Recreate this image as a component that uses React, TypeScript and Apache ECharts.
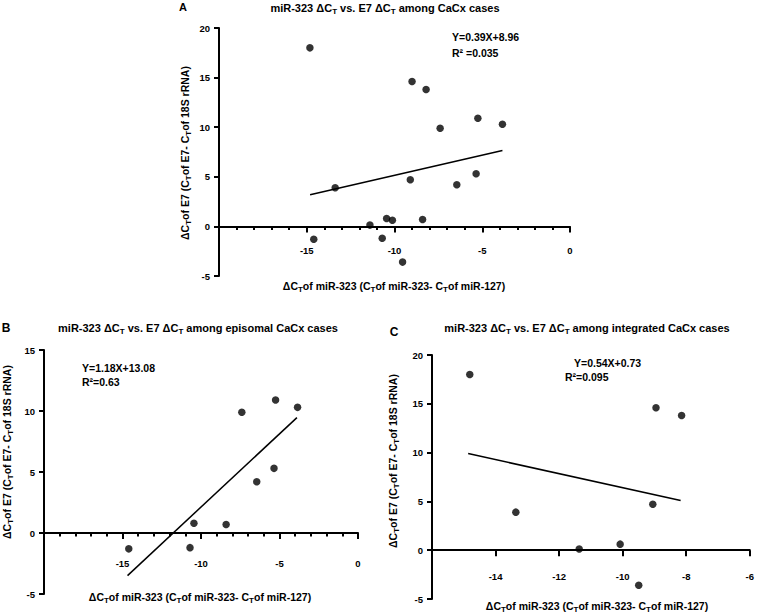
import React, { useEffect, useRef } from "react";
import * as echarts from "echarts";

// Episomal CaCx cases (panel B)
const episomalX = [-14.6, -10.7, -10.45, -8.4, -7.4, -6.45, -5.35, -5.25, -3.85];
const episomalY = [-1.3, -1.2, 0.8, 0.7, 9.9, 4.2, 5.3, 10.9, 10.3];
// Integrated CaCx cases (panel C)
const integratedX = [-14.82, -13.38, -11.4, -10.12, -9.54, -9.1, -9.0, -8.2];
const integratedY = [18.0, 3.9, 0.13, 0.62, -3.6, 4.7, 14.6, 13.8];

// Regression line ends as drawn
const fitAX = [-14.81, -3.85];
const fitAY = [3.2, 7.66];
const fitBX = [-14.68, -3.89];
const fitBY = [-3.49, 9.46];
const fitCX = [-14.87, -8.23];
const fitCY = [9.9, 5.09];

// Axis ranges
const xRangeA = [-20, 0];
const xRangeB = [-20, 0];
const xRangeC = [-16, -6];
const yRangeA = [-5, 20];
const yRangeB = [-5, 15];
const yRangeC = [-5, 20];

const FONT = "Liberation Sans";

const pairs = (xs: number[], ys: number[]) => xs.map((x, i) => [x, ys[i]]);

function sub(size: number) {
  return {
    s: {
      fontSize: Math.round(size * 0.72),
      fontWeight: "bold",
      fontFamily: FONT,
      fill: "#000",
      padding: [Math.round(size * 0.55), 0, 0, 0],
    },
    n: { fontSize: size, fontWeight: "bold", fontFamily: FONT, fill: "#000" },
  };
}

function txt(
  x: number,
  y: number,
  text: string,
  size: number,
  align: string = "center",
  rotation = 0
) {
  return {
    type: "text",
    x,
    y,
    rotation,
    style: {
      text,
      fontSize: size,
      fontWeight: "bold",
      fontFamily: FONT,
      fill: "#000",
      align,
      verticalAlign: "middle",
      rich: sub(size),
    },
  };
}

const Y_TITLE = "{n|ΔC}{s|T}{n|of E7 (C}{s|T}{n|of E7- C}{s|T}{n|of 18S rRNA)}";
const X_TITLE = "{n|ΔC}{s|T}{n|of miR-323 (C}{s|T}{n|of miR-323- C}{s|T}{n|of miR-127)}";
const title = (what: string) =>
  `{n|miR-323 ΔC}{s|T}{n| vs. E7 ΔC}{s|T}{n| among ${what}CaCx cases}`;

// Hidden x axis for plotting data
function dataXAxis(gridIndex: number, r: number[]) {
  return { type: "value", gridIndex, min: r[0], max: r[1], show: false };
}

// Visible x axis drawn at the y = 0 line (bottom of a grid that ends at zero)
function zeroXAxis(gridIndex: number, r: number[], interval: number, minor: boolean, margin: number) {
  return {
    type: "value",
    gridIndex,
    min: r[0],
    max: r[1],
    interval,
    position: "bottom",
    axisLine: { show: true, onZero: false, lineStyle: { color: "#000", width: 2 } },
    axisTick: { show: true, length: 6, lineStyle: { color: "#000", width: 2 } },
    minorTick: { show: minor, splitNumber: 5, length: 3.5, lineStyle: { color: "#000", width: 2 } },
    splitLine: { show: false },
    minorSplitLine: { show: false },
    axisLabel: {
      color: "#000",
      fontSize: 9.5,
      fontWeight: "bold",
      fontFamily: FONT,
      margin,
      formatter: (v: number) => (v === r[0] ? "" : String(v)),
    },
  };
}

function yAxis(gridIndex: number, r: number[]) {
  return {
    type: "value",
    gridIndex,
    min: r[0],
    max: r[1],
    interval: 5,
    axisLine: { show: true, onZero: false, lineStyle: { color: "#000", width: 2 } },
    axisTick: { show: true, length: 5, lineStyle: { color: "#000", width: 2 } },
    splitLine: { show: false },
    axisLabel: {
      color: "#000",
      fontSize: 9.5,
      fontWeight: "bold",
      fontFamily: FONT,
      margin: 9,
    },
  };
}

function hiddenYAxis(gridIndex: number) {
  return { type: "value", gridIndex, min: 0, max: 1, show: false };
}

function scatter(i: number, data: number[][]) {
  return {
    type: "scatter",
    xAxisIndex: i,
    yAxisIndex: i,
    data,
    symbol: "circle",
    symbolSize: 7.5,
    itemStyle: { color: "#000" },
    z: 3,
  };
}

function fit(i: number, data: number[][]) {
  return {
    type: "line",
    xAxisIndex: i,
    yAxisIndex: i,
    data,
    showSymbol: false,
    symbol: "none",
    lineStyle: { color: "#000", width: 1.5 },
    z: 2,
  };
}

// grid boxes
const boxA = { left: 219, top: 28, width: 351, height: 248 };
const boxB = { left: 44, top: 350, width: 314, height: 244 };
const boxC = { left: 432, top: 355, width: 320, height: 244 };

const zeroGrid = (b: typeof boxA, yr: number[]) => ({
  left: b.left,
  top: b.top,
  width: b.width,
  height: (b.height * yr[1]) / (yr[1] - yr[0]),
});

export default function App() {
  const ref = useRef<HTMLDivElement>(null);
  useEffect(() => {
    if (!ref.current) return;
    const chart = echarts.init(ref.current, undefined, { renderer: "svg" });
    const allX = [...episomalX, ...integratedX];
    const allY = [...episomalY, ...integratedY];
    chart.setOption({
      animation: false,
      backgroundColor: "#fff",
      grid: [
        boxA,
        boxB,
        boxC,
        zeroGrid(boxA, yRangeA),
        zeroGrid(boxB, yRangeB),
        zeroGrid(boxC, yRangeC),
      ],
      xAxis: [
        dataXAxis(0, xRangeA),
        dataXAxis(1, xRangeB),
        dataXAxis(2, xRangeC),
        zeroXAxis(3, xRangeA, 5, true, 19),
        zeroXAxis(4, xRangeB, 5, true, 25),
        zeroXAxis(5, xRangeC, 2, false, 21),
      ],
      yAxis: [
        yAxis(0, yRangeA),
        yAxis(1, yRangeB),
        yAxis(2, yRangeC),
        hiddenYAxis(3),
        hiddenYAxis(4),
        hiddenYAxis(5),
      ],
      series: [
        scatter(0, pairs(allX, allY)),
        fit(0, pairs(fitAX, fitAY)),
        scatter(1, pairs(episomalX, episomalY)),
        fit(1, pairs(fitBX, fitBY)),
        scatter(2, pairs(integratedX, integratedY)),
        fit(2, pairs(fitCX, fitCY)),
      ],
      graphic: [
        txt(183, 7, "{n|A}", 11),
        txt(385, 8, title(""), 11),
        txt(185, 153, Y_TITLE, 10.5, "center", Math.PI / 2),
        txt(394, 286, X_TITLE, 10.5),
        txt(452, 37, "{n|Y=0.39X+8.96}", 10.5, "left"),
        txt(452, 53, "{n|R² =0.035}", 10.5, "left"),

        txt(6, 328, "{n|B}", 12),
        txt(198, 328, title("episomal "), 11),
        txt(7, 452, Y_TITLE, 10.5, "center", Math.PI / 2),
        txt(200, 597, X_TITLE, 10.5),
        txt(82, 368, "{n|Y=1.18X+13.08}", 10.5, "left"),
        txt(82, 382, "{n|R²=0.63}", 10.5, "left"),

        txt(394, 332, "{n|C}", 12),
        txt(587, 328, title("integrated "), 11),
        txt(393, 461, Y_TITLE, 10.5, "center", Math.PI / 2),
        txt(597, 606, X_TITLE, 10.5),
        txt(574, 363, "{n|Y=0.54X+0.73}", 10.5, "left"),
        txt(565, 377, "{n|R²=0.095}", 10.5, "left"),
      ],
    });
    return () => chart.dispose();
  }, []);
  return (
    <div
      ref={ref}
      style={{ position: "fixed", left: 0, top: 0, width: 757, height: 616, background: "#fff" }}
    />
  );
}
